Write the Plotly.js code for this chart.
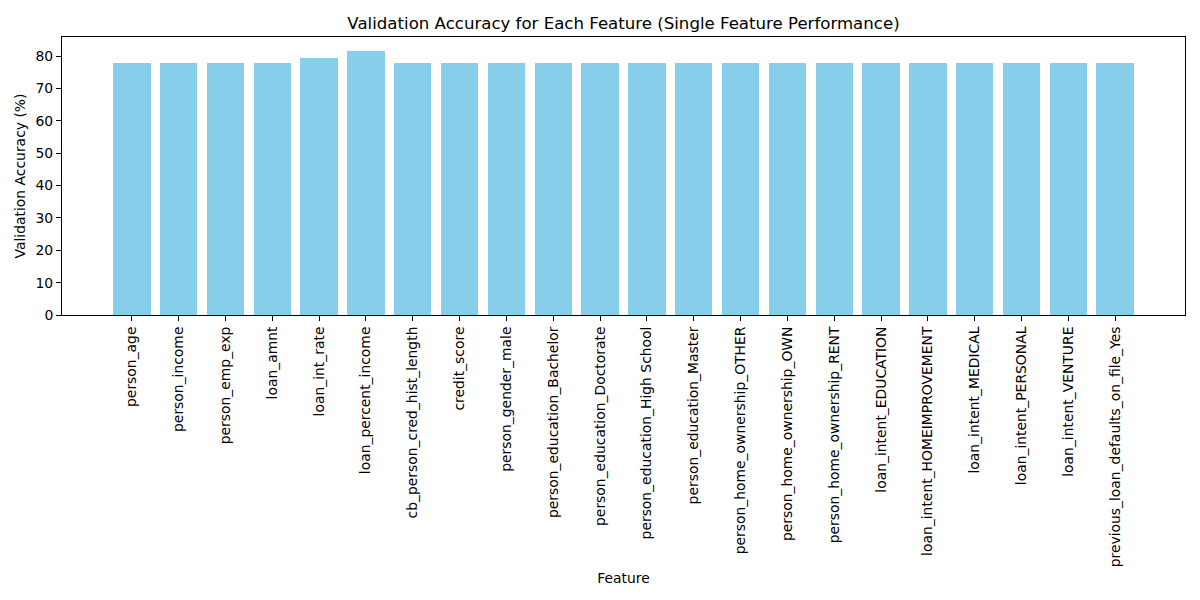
<!DOCTYPE html>
<html><head><meta charset="utf-8">
<script src="https://cdn.plot.ly/plotly-3.0.1.min.js"></script>
<style>body{margin:0;padding:0;background:#fff}#chart{width:1200px;height:600px}</style>
</head><body><div id="chart"></div>
<script>
const features = ["person_age","person_income","person_emp_exp","loan_amnt","loan_int_rate","loan_percent_income","cb_person_cred_hist_length","credit_score","person_gender_male","person_education_Bachelor","person_education_Doctorate","person_education_High School","person_education_Master","person_home_ownership_OTHER","person_home_ownership_OWN","person_home_ownership_RENT","loan_intent_EDUCATION","loan_intent_HOMEIMPROVEMENT","loan_intent_MEDICAL","loan_intent_PERSONAL","loan_intent_VENTURE","previous_loan_defaults_on_file_Yes"];
const accuracy = [77.8,77.8,77.8,77.8,79.4,81.5,77.8,77.8,77.8,77.8,77.8,77.8,77.8,77.8,77.8,77.8,77.8,77.8,77.8,77.8,77.8,77.8];
const yTicks = [0,10,20,30,40,50,60,70,80];

const xIdx = features.map((_, i) => i);
const trace = {type:'bar', x:xIdx, y:accuracy, width:0.8, marker:{color:'#87CEEB', line:{width:0}}, hoverinfo:'x+y'};
const font = {family:'DejaVu Sans', size:13.9, color:'#000'};
const layout = {
  width:1200, height:600,
  margin:{l:62, r:15, t:37, b:285},
  paper_bgcolor:'#fff', plot_bgcolor:'#fff',
  font: font,
  showlegend:false,
  title:{text:'Validation Accuracy for Each Feature (Single Feature Performance)', font:{family:'DejaVu Sans', size:16.6, color:'#000'}, xref:'paper', x:0.5, xanchor:'center', yref:'container', y:1-(23/600), yanchor:'middle'},
  xaxis:{range:[-1.49, 22.49], tickmode:'array', tickvals:xIdx, ticktext:features, tickangle:-90,
    showgrid:false, zeroline:false, showline:true, linecolor:'#000', linewidth:1, mirror:true,
    ticks:'outside', ticklen:5, tickwidth:1, tickcolor:'#000', tickfont:font,
    title:{text:'Feature', font:font, standoff:6}},
  yaxis:{range:[0, 85.9], tickmode:'array', tickvals:yTicks, ticktext:yTicks.map(String),
    showgrid:false, zeroline:false, showline:true, linecolor:'#000', linewidth:1, mirror:true,
    ticks:'outside', ticklen:5, tickwidth:1, tickcolor:'#000', tickfont:font,
    title:{text:'Validation Accuracy (%)', font:font, standoff:6}},
  bargap:0
};
Plotly.newPlot('chart', [trace], layout, {displayModeBar:false, staticPlot:true});
</script></body></html>
